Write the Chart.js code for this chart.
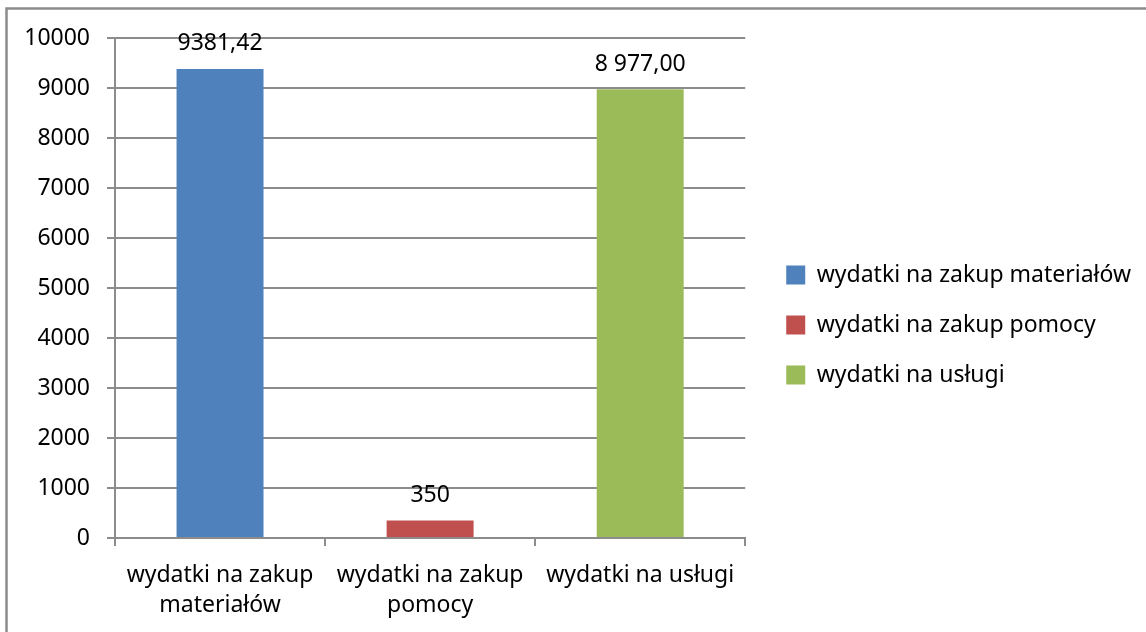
<!DOCTYPE html>
<html>
<head>
<meta charset="utf-8">
<script src="https://cdn.jsdelivr.net/npm/chart.js@4"></script>
<style>
  html, body { margin: 0; padding: 0; background: #fff; }
  #wrap { width: 1146px; height: 632px; }
</style>
</head>
<body>
<div id="wrap"><canvas id="expensesChart" width="1146" height="632"></canvas></div>
<script>
const categories = [
    ['wydatki na zakup', 'materiałów'],
    ['wydatki na zakup', 'pomocy'],
    ['wydatki na usługi']
];
const legendNames = ['wydatki na zakup materiałów', 'wydatki na zakup pomocy', 'wydatki na usługi'];
const amounts = [9381.42, 350, 8977.00];
const amountLabels = ['9381,42', '350', '8 977,00'];
const barColors = ['#4F81BD', '#C0504D', '#9BBB59'];
const yTicks = [0, 1000, 2000, 3000, 4000, 5000, 6000, 7000, 8000, 9000, 10000];

const FONT = { family: "'Noto Sans', sans-serif", size: 23 };
const GRID = '#8c8c8c';

// outer frame like the spreadsheet chart box
const framePlugin = {
    id: 'frame',
    beforeDraw(chart) {
        const ctx = chart.ctx;
        ctx.save();
        ctx.strokeStyle = GRID;
        ctx.lineWidth = 2.5;
        ctx.strokeRect(6.5, 8.5, 1300, 800);
        ctx.restore();
    }
};

// value labels above bars
const valueLabels = {
    id: 'valueLabels',
    afterDatasetsDraw(chart) {
        const ctx = chart.ctx;
        ctx.save();
        ctx.font = FONT.size + 'px ' + FONT.family;
        ctx.fillStyle = '#000';
        ctx.textAlign = 'center';
        ctx.textBaseline = 'middle';
        chart.getDatasetMeta(0).data.forEach((bar, i) => {
            ctx.fillText(amountLabels[i], bar.x, bar.y - 25);
        });
        ctx.restore();
    }
};

// empty axes, only used as spacers
const spacer = (pos, size) => ({
    position: pos,
    grid: { display: false },
    border: { display: false },
    ticks: { display: false },
    afterFit: s => {
        if (pos === 'top') s.height = size; else s.width = size;
    }
});

new Chart(document.getElementById('expensesChart'), {
    type: 'bar',
    data: {
        labels: categories,
        datasets: [{
            data: amounts,
            backgroundColor: barColors,
            categoryPercentage: 1,
            barPercentage: 0.414
        }]
    },
    options: {
        responsive: false,
        animation: false,
        layout: { padding: { top: 18, bottom: 0, left: 0, right: 5 } },
        plugins: {
            tooltip: { enabled: false },
            legend: {
                position: 'right',
                maxWidth: 420,
                labels: {
                    font: FONT,
                    color: '#000',
                    boxWidth: 19,
                    boxHeight: 19,
                    padding: 27,
                    generateLabels: () => legendNames.map((name, i) => ({
                        text: name,
                        fillStyle: barColors[i],
                        strokeStyle: barColors[i],
                        lineWidth: 0,
                        index: i
                    }))
                }
            }
        },
        scales: {
            x: {
                afterFit: s => { s.height = 94; },
                grid: {
                    offset: true,
                    drawOnChartArea: false,
                    color: GRID,
                    lineWidth: 2,
                    tickLength: 8
                },
                border: { color: GRID, width: 2 },
                ticks: { font: { ...FONT, lineHeight: 1.3 }, color: '#000', padding: 15, maxRotation: 0 }
            },
            y: {
                min: 0,
                max: 10000,
                afterFit: s => { s.width = 115; },
                afterBuildTicks: s => { s.ticks = yTicks.map(v => ({ value: v })); },
                grid: { color: GRID, lineWidth: 2, tickLength: 8 },
                border: { color: GRID, width: 2 },
                ticks: { font: FONT, color: '#000', padding: 17, callback: v => String(v) }
            },
            xTop: { type: 'category', axis: 'x', ...spacer('top', 20) },
            yGap: { type: 'linear', axis: 'y', ...spacer('right', 14) }
        }
    },
    plugins: [framePlugin, valueLabels]
});
</script>
</body>
</html>
